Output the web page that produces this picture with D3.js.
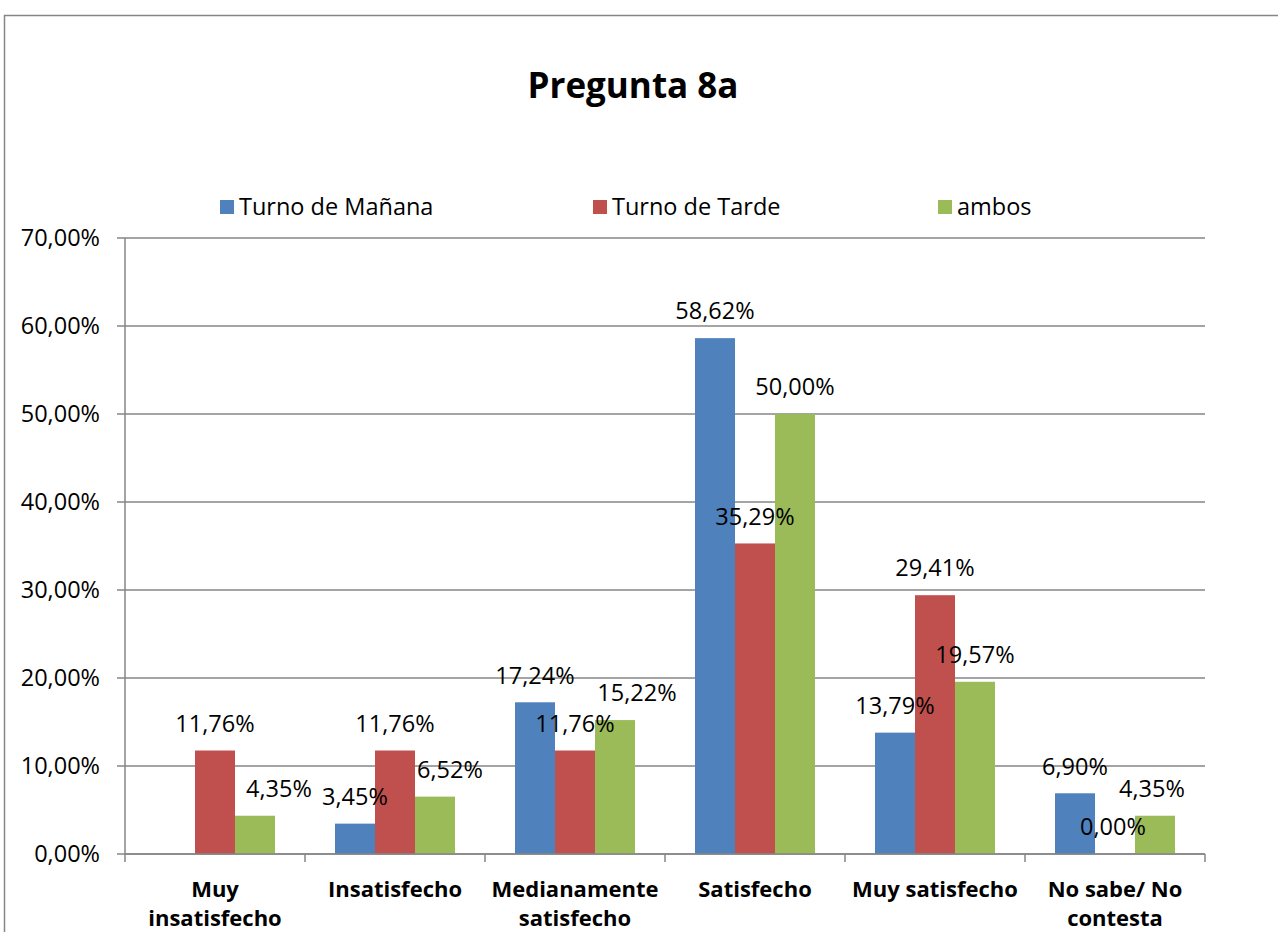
<!DOCTYPE html>
<html>
<head>
<meta charset="utf-8">
<script src="https://cdn.jsdelivr.net/npm/d3@7"></script>
<style>
body { margin: 0; background: #fff; }
text { font-family: "Open Sans", sans-serif; fill: #000; }
</style>
</head>
<body>
<div id="graph"></div>
<script>
var categories = [["Muy", "insatisfecho"], ["Insatisfecho"], ["Medianamente", "satisfecho"], ["Satisfecho"], ["Muy satisfecho"], ["No sabe/ No", "contesta"]];
var seriesNames = ["Turno de Mañana", "Turno de Tarde", "ambos"];
var manana = [null, 3.45, 17.24, 58.62, 13.79, 6.90];
var tarde = [11.76, 11.76, 11.76, 35.29, 29.41, 0.00];
var ambos = [4.35, 6.52, 15.22, 50.00, 19.57, 4.35];
var yTicks = [0, 10, 20, 30, 40, 50, 60, 70];
var colors = ["#4F81BD", "#C0504D", "#9BBB59"];

var series = [manana, tarde, ambos];
var fmt = function(v) { return v.toFixed(2).replace(".", ",") + "%"; };

// labels that were dragged sideways in the original (key: series-category)
var nudge = {"2-0": 24, "2-1": 15, "2-2": 22, "1-5": -2, "2-5": -3};

var W = 1278, H = 932;
var svg = d3.select("#graph").append("svg").attr("width", W).attr("height", H);

// chart border
svg.append("rect").attr("x", 4.5).attr("y", 15.5).attr("width", 1290).attr("height", 940)
  .attr("fill", "none").attr("stroke", "#868686").attr("stroke-width", 1.5);

var pLeft = 125, pRight = 1205, pTop = 238, pBottom = 854;

var x0 = d3.scaleBand().domain(d3.range(categories.length)).range([pLeft, pRight]);
// gap width 150%
var barW = x0.bandwidth() / 4.5;
var barX = function(ci, si) { return x0(ci) + barW * 0.75 + si * barW; };

var y = d3.scaleLinear().domain([0, 70]).range([pBottom, pTop]);

// gridlines
svg.append("g").selectAll("line").data(yTicks).enter().append("line")
  .attr("x1", pLeft - 8).attr("x2", pRight).attr("y1", function(d) { return y(d); }).attr("y2", function(d) { return y(d); })
  .attr("stroke", "#868686").attr("stroke-width", 1.5);

// y axis
svg.append("line").attr("x1", pLeft).attr("x2", pLeft).attr("y1", pTop).attr("y2", pBottom)
  .attr("stroke", "#868686").attr("stroke-width", 1.5);
svg.append("g").selectAll("text").data(yTicks).enter().append("text")
  .attr("x", 100).attr("y", function(d) { return y(d); }).attr("dy", "0.35em")
  .attr("text-anchor", "end").style("font-size", "23.5px")
  .text(function(d) { return fmt(d); });

// bars + labels
var cells = [];
series.forEach(function(s, si) {
  s.forEach(function(v, ci) {
    if (v !== null) cells.push({ci: ci, si: si, v: v});
  });
});

svg.append("g").selectAll("rect").data(cells).enter().append("rect")
  .attr("x", function(d) { return barX(d.ci, d.si); })
  .attr("y", function(d) { return y(d.v); })
  .attr("width", barW).attr("height", function(d) { return pBottom - y(d.v); })
  .attr("fill", function(d) { return colors[d.si]; });

svg.append("g").selectAll("text").data(cells).enter().append("text")
  .attr("x", function(d) { return barX(d.ci, d.si) + barW / 2 + (nudge[d.si + "-" + d.ci] || 0); })
  .attr("y", function(d) { return y(d.v) - 27; }).attr("dy", "0.35em")
  .attr("text-anchor", "middle").style("font-size", "23.5px")
  .text(function(d) { return fmt(d.v); });

// x axis
svg.append("line").attr("x1", pLeft).attr("x2", pRight).attr("y1", pBottom).attr("y2", pBottom)
  .attr("stroke", "#868686").attr("stroke-width", 1.5);
svg.append("g").selectAll("line").data(d3.range(categories.length + 1)).enter().append("line")
  .attr("x1", function(d) { return pLeft + d * x0.bandwidth(); }).attr("x2", function(d) { return pLeft + d * x0.bandwidth(); })
  .attr("y1", pBottom).attr("y2", pBottom + 8).attr("stroke", "#868686").attr("stroke-width", 1.5);

var catG = svg.append("g").selectAll("text").data(categories).enter().append("text")
  .attr("x", function(d, i) { return x0(i) + x0.bandwidth() / 2; })
  .attr("text-anchor", "middle").style("font-size", "22px").style("font-weight", "bold");
catG.selectAll("tspan").data(function(d) { return d; }).enter().append("tspan")
  .attr("x", function() { return d3.select(this.parentNode).attr("x"); })
  .attr("y", function(d, i) { return 889 + i * 29; }).attr("dy", "0.35em")
  .text(function(d) { return d; });

// title
svg.append("text").attr("x", 633).attr("y", 86).attr("dy", "0.35em").attr("text-anchor", "middle")
  .style("font-size", "35px").style("font-weight", "bold").text("Pregunta 8a");

// legend
var legX = [220, 593, 938];
var leg = svg.append("g").selectAll("g").data(seriesNames).enter().append("g")
  .attr("transform", function(d, i) { return "translate(" + legX[i] + ",207)"; });
leg.append("rect").attr("x", 0).attr("y", -7).attr("width", 14).attr("height", 14)
  .attr("fill", function(d, i) { return colors[i]; });
leg.append("text").attr("x", 19).attr("y", 0).attr("dy", "0.35em").style("font-size", "23.5px")
  .text(function(d) { return d; });
</script>
</body>
</html>
